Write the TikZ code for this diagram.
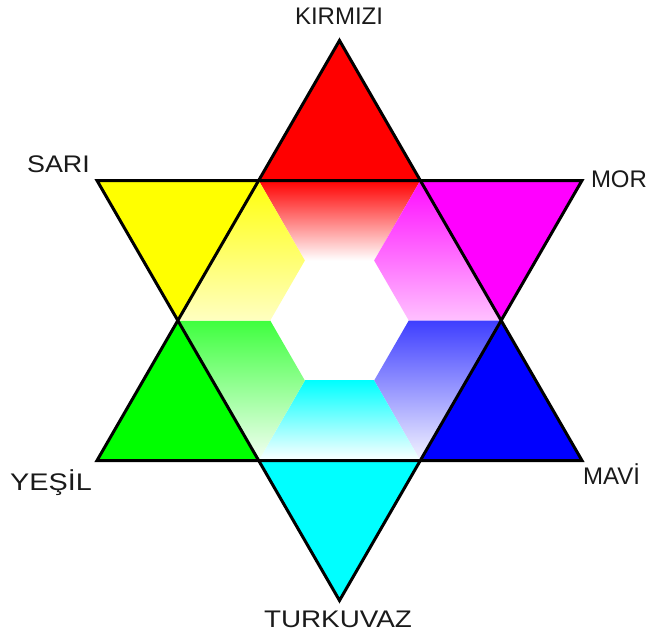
\documentclass[tikz,border=0pt]{standalone}
\usepackage{fontspec}
\setmainfont{Liberation Sans}
\usepackage{xcolor}
\definecolor{cRed}{RGB}{255,0,0}
\definecolor{cMagenta}{RGB}{255,0,255}
\definecolor{cBlue}{RGB}{0,0,255}
\definecolor{cCyan}{RGB}{0,255,255}
\definecolor{cGreen}{RGB}{0,255,0}
\definecolor{cYellow}{RGB}{255,255,0}
\definecolor{cText}{HTML}{1A1A1A}
\usepackage{tikz}
\tikzset{
  star-edge/.style={draw=black,line width=3pt,line join=miter},
  label-text/.style={font=\fontsize{24}{28}\selectfont,anchor=base,
    text=cText,inner sep=0pt},
}

\begin{document}
\begin{tikzpicture}[x=1pt,y=1pt]
  \useasboundingbox (-339.5,-314.5) rectangle (308.5,320.5);
  % tips and inner fades, clockwise from the top
  \foreach \ang/\col in {0/cRed,60/cMagenta,120/cBlue,180/cCyan,240/cGreen,300/cYellow} {
    \begin{scope}[rotate=-\ang]
      \fill[\col] (0,280) -- (-80.83,140) -- (80.83,140) -- cycle;
      \begin{scope}
        \clip (0,0) -- (-80.83,140) -- (80.83,140) -- cycle;
        \shade[top color=\col,bottom color=white] (-90,60) rectangle (90,140.5);
      \end{scope}
    \end{scope}
  }
  \draw[star-edge] (90:280) -- (210:280) -- (330:280) -- cycle;
  \draw[star-edge] (270:280) -- (30:280) -- (150:280) -- cycle;
  % names
  \node[label-text] (kirmizi)  at (-0.5,295.5)  {KIRMIZI};
  \node[label-text] (sari)     at (-281,148.5)  {\scalebox{1.12}[1]{SARI}};
  \node[label-text] (mor)      at (279.5,133.5) {MOR};
  \node[label-text] (yesil)    at (-288.5,-169.5) {\scalebox{1.2}[1]{YEŞİL}};
  \node[label-text] (mavi)     at (272,-163.5)  {MAVİ};
  \node[label-text] (turkuvaz) at (-1.5,-306.5) {\scalebox{1.16}[1]{TURKUVAZ}};
\end{tikzpicture}
\end{document}
